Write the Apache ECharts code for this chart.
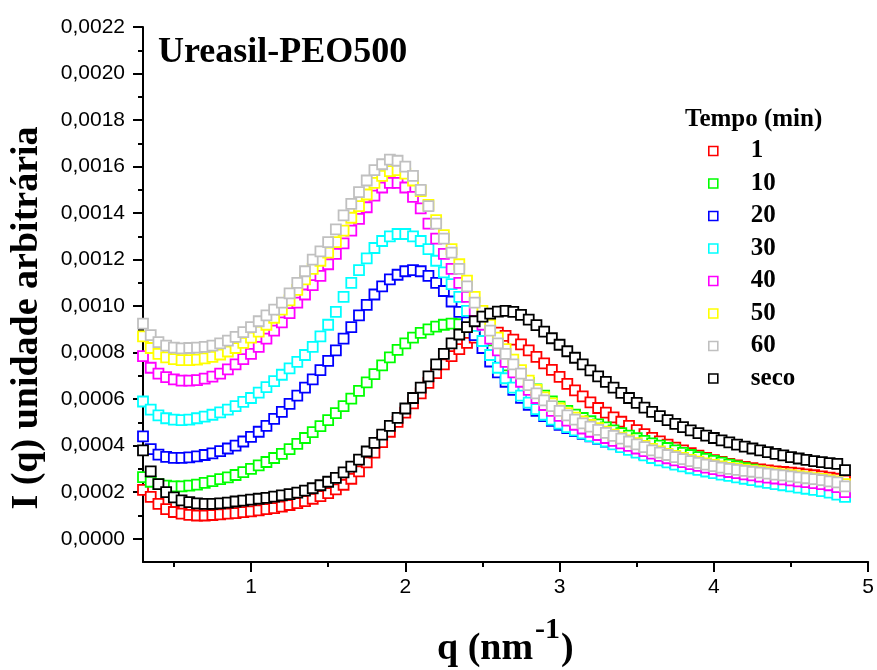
<!DOCTYPE html>
<html>
<head>
<meta charset="utf-8">
<script src="https://cdn.jsdelivr.net/npm/echarts@6/dist/echarts.min.js"></script>
<style>html,body{margin:0;padding:0;background:#fff;}#c{width:877px;height:670px;}</style>
</head>
<body>
<div id="c"></div>
<script>
// q (nm^-1)
const q = [0.30,0.35,0.40,0.45,0.50,0.55,0.60,0.65,0.70,0.75,
0.80,0.85,0.90,0.95,1.00,1.05,1.10,1.15,1.20,1.25,
1.30,1.35,1.40,1.45,1.50,1.55,1.60,1.65,1.70,1.75,
1.80,1.85,1.90,1.95,2.00,2.05,2.10,2.15,2.20,2.25,
2.30,2.35,2.40,2.45,2.50,2.55,2.60,2.65,2.70,2.75,
2.80,2.85,2.90,2.95,3.00,3.05,3.10,3.15,3.20,3.25,
3.30,3.35,3.40,3.45,3.50,3.55,3.60,3.65,3.70,3.75,
3.80,3.85,3.90,3.95,4.00,4.05,4.10,4.15,4.20,4.25,
4.30,4.35,4.40,4.45,4.50,4.55,4.60,4.65,4.70,4.75,
4.80,4.85];

// I(q) in units of 1e-4
const t1 = [2.10,1.80,1.50,1.27,1.15,1.08,1.03,1.00,1.00,1.02,
1.05,1.08,1.10,1.14,1.18,1.22,1.27,1.32,1.38,1.45,
1.53,1.62,1.72,1.83,1.96,2.12,2.32,2.58,2.90,3.28,
3.70,4.15,4.60,5.02,5.42,5.82,6.25,6.70,7.12,7.50,
7.85,8.15,8.42,8.65,8.83,8.92,8.86,8.72,8.56,8.36,
8.10,7.82,7.54,7.26,6.96,6.66,6.38,6.12,5.86,5.62,
5.42,5.22,5.03,4.85,4.67,4.50,4.34,4.19,4.05,3.92,
3.80,3.68,3.57,3.47,3.38,3.30,3.22,3.15,3.09,3.03,
2.98,2.94,2.90,2.87,2.84,2.81,2.77,2.73,2.68,2.63,
2.58,2.50];

const t10 = [2.65,2.45,2.35,2.28,2.25,2.25,2.28,2.33,2.40,2.48,
2.56,2.64,2.74,2.86,3.00,3.15,3.30,3.47,3.65,3.85,
4.08,4.33,4.58,4.84,5.10,5.40,5.70,6.02,6.36,6.72,
7.08,7.45,7.80,8.12,8.40,8.65,8.85,9.00,9.12,9.20,
9.25,9.22,9.10,8.85,8.50,8.10,7.75,7.45,7.18,6.95,
6.70,6.42,6.15,5.90,5.68,5.50,5.34,5.19,5.05,4.92,
4.79,4.66,4.54,4.43,4.32,4.21,4.10,4.00,3.90,3.80,
3.69,3.60,3.51,3.43,3.35,3.27,3.19,3.11,3.04,2.97,
2.90,2.83,2.76,2.69,2.62,2.55,2.48,2.41,2.33,2.24,
2.10,1.85];

const t20 = [4.40,3.85,3.62,3.52,3.48,3.48,3.50,3.54,3.60,3.67,
3.77,3.88,4.00,4.18,4.38,4.60,4.85,5.15,5.45,5.80,
6.15,6.50,6.85,7.25,7.65,8.10,8.60,9.10,9.60,10.05,
10.50,10.85,11.15,11.35,11.50,11.55,11.50,11.30,11.00,10.65,
10.20,9.75,9.30,8.75,8.20,7.62,7.15,6.75,6.40,6.06,
5.76,5.50,5.27,5.07,4.90,4.76,4.63,4.51,4.40,4.29,
4.18,4.07,3.96,3.85,3.74,3.63,3.53,3.43,3.34,3.25,
3.17,3.09,3.02,2.95,2.88,2.82,2.76,2.70,2.64,2.58,
2.52,2.47,2.42,2.37,2.32,2.27,2.22,2.17,2.12,2.06,
1.98,1.85];

const t30 = [5.90,5.55,5.30,5.18,5.12,5.10,5.12,5.18,5.25,5.33,
5.43,5.55,5.70,5.88,6.05,6.28,6.52,6.78,7.05,7.32,
7.60,7.90,8.25,8.70,9.20,9.75,10.40,11.00,11.55,12.05,
12.50,12.80,13.00,13.10,13.10,13.00,12.80,12.45,11.95,11.45,
10.95,10.40,9.80,9.15,8.50,7.90,7.35,6.90,6.50,6.15,
5.85,5.57,5.33,5.12,4.95,4.80,4.66,4.53,4.41,4.30,
4.18,4.06,3.94,3.82,3.70,3.58,3.47,3.37,3.28,3.19,
3.11,3.03,2.96,2.89,2.82,2.76,2.70,2.64,2.58,2.52,
2.46,2.40,2.35,2.30,2.25,2.20,2.15,2.10,2.05,1.98,
1.90,1.80];

const t40 = [7.85,7.35,7.10,6.95,6.85,6.80,6.80,6.82,6.88,6.97,
7.10,7.28,7.50,7.72,7.95,8.25,8.60,8.95,9.30,9.70,
10.15,10.50,10.90,11.30,11.80,12.25,12.70,13.25,13.75,14.25,
14.75,15.10,15.30,15.30,15.10,14.70,14.20,13.55,12.90,12.25,
11.60,11.00,10.40,9.80,9.20,8.60,8.10,7.60,7.15,6.75,
6.40,6.05,5.75,5.50,5.28,5.08,4.90,4.74,4.60,4.46,
4.33,4.21,4.10,3.99,3.88,3.77,3.66,3.56,3.46,3.37,
3.29,3.21,3.13,3.06,2.99,2.93,2.87,2.82,2.77,2.72,
2.67,2.63,2.59,2.55,2.51,2.47,2.43,2.39,2.35,2.30,
2.22,2.00];

const t50 = [8.70,8.20,7.95,7.80,7.72,7.68,7.68,7.70,7.75,7.82,
7.92,8.05,8.20,8.42,8.65,8.90,9.20,9.50,9.85,10.25,
10.70,11.15,11.60,11.95,12.30,12.75,13.25,13.80,14.30,14.80,
15.30,15.60,15.80,15.85,15.70,15.40,14.95,14.35,13.70,13.05,
12.45,11.80,11.10,10.40,9.80,9.20,8.65,8.15,7.70,7.25,
6.80,6.40,6.08,5.82,5.60,5.40,5.21,5.04,4.89,4.75,
4.60,4.47,4.35,4.23,4.11,3.99,3.86,3.75,3.65,3.56,
3.47,3.39,3.31,3.24,3.17,3.11,3.05,3.01,2.97,2.93,
2.89,2.85,2.81,2.77,2.73,2.69,2.65,2.61,2.57,2.52,
2.46,2.35];

const t60 = [9.25,8.75,8.45,8.30,8.22,8.18,8.20,8.22,8.25,8.30,
8.40,8.52,8.68,8.88,9.10,9.35,9.60,9.85,10.15,10.55,
11.00,11.50,12.00,12.35,12.75,13.30,13.90,14.40,14.90,15.40,
15.85,16.10,16.30,16.25,16.00,15.60,15.00,14.30,13.55,12.90,
12.30,11.60,10.85,10.15,9.55,8.95,8.40,7.95,7.50,7.10,
6.60,6.25,5.95,5.70,5.50,5.30,5.12,4.96,4.82,4.68,
4.55,4.42,4.30,4.18,4.06,3.94,3.80,3.70,3.60,3.51,
3.42,3.34,3.26,3.19,3.12,3.06,3.00,2.96,2.92,2.88,
2.84,2.80,2.76,2.72,2.68,2.64,2.60,2.56,2.52,2.47,
2.42,2.25];

const tSeco = [3.80,2.90,2.35,2.00,1.78,1.65,1.57,1.52,1.50,1.50,
1.52,1.55,1.60,1.64,1.68,1.72,1.76,1.81,1.86,1.92,
1.98,2.07,2.17,2.30,2.45,2.62,2.85,3.10,3.40,3.75,
4.12,4.48,4.85,5.20,5.60,6.05,6.50,6.98,7.50,7.95,
8.40,8.78,9.10,9.35,9.55,9.68,9.76,9.80,9.75,9.62,
9.42,9.18,8.90,8.62,8.34,8.06,7.78,7.50,7.24,6.98,
6.74,6.50,6.27,6.05,5.84,5.64,5.45,5.27,5.10,4.94,
4.80,4.66,4.54,4.43,4.33,4.23,4.14,4.05,3.96,3.88,
3.80,3.72,3.65,3.58,3.51,3.45,3.39,3.34,3.29,3.25,
3.22,2.95];

const seriesNames = ['1','10','20','30','40','50','60','seco'];
const seriesValues = [t1,t10,t20,t30,t40,t50,t60,tSeco];
const seriesColors = ['#ff0000','#00ff00','#0000ff','#00ffff','#ff00ff','#ffff00','#c0c0c0','#000000'];

const xMajorTicks = [1,2,3,4,5];
const xMinorTicks = [0.5,1.5,2.5,3.5,4.5];
const yMajorTicks = [0,2,4,6,8,10,12,14,16,18,20,22];   // ×1e-4
const yMinorTicks = [1,3,5,7,9,11,13,15,17,19,21];

const chart = echarts.init(document.getElementById('c'), null, {renderer:'canvas'});
const serif = '"Liberation Serif","Times New Roman",serif';
const sans = '"Liberation Sans",Arial,sans-serif';

const axisCommon = {
  type:'value', min:0.3, max:5, splitLine:{show:false}
};
const option = {
  animation:false,
  backgroundColor:'#fff',
  grid:{left:143, right:7, top:27, bottom:108, containLabel:false},
  xAxis:[
    Object.assign({}, axisCommon, {
      position:'bottom',
      axisLine:{show:true, onZero:false, lineStyle:{color:'#000', width:2}},
      axisTick:{show:true, inside:false, length:10, customValues:xMajorTicks, lineStyle:{color:'#000', width:2}},
      axisLabel:{customValues:xMajorTicks, margin:15, color:'#000', fontFamily:sans, fontSize:21}
    }),
    Object.assign({}, axisCommon, {
      position:'bottom',
      axisLine:{show:false, onZero:false},
      axisTick:{show:true, inside:false, length:5, customValues:xMinorTicks, lineStyle:{color:'#000', width:2}},
      axisLabel:{show:false}
    })
  ],
  yAxis:[
    {
      type:'value', min:-1, max:22, position:'left', splitLine:{show:false},
      axisLine:{show:true, onZero:false, lineStyle:{color:'#000', width:2}},
      axisTick:{show:true, inside:false, length:10, customValues:yMajorTicks, lineStyle:{color:'#000', width:2}},
      axisLabel:{customValues:yMajorTicks, margin:18, color:'#000', fontFamily:sans, fontSize:21,
        formatter:function(v){ return (v/10000).toFixed(4).replace('.', ','); }}
    },
    {
      type:'value', min:-1, max:22, position:'left', offset:0, splitLine:{show:false},
      axisLine:{show:false, onZero:false},
      axisTick:{show:true, inside:false, length:5, customValues:yMinorTicks, lineStyle:{color:'#000', width:2}},
      axisLabel:{show:false}
    }
  ],
  legend:{
    orient:'vertical', left:708, top:138.5, padding:0,
    itemWidth:9, itemHeight:9, itemGap:7.5,
    data:seriesNames,
    itemStyle:{borderWidth:1.6},
    textStyle:{color:'#000', fontFamily:serif, fontWeight:'bold', fontSize:25, lineHeight:25, padding:[0,0,0,28]}
  },
  graphic:[
    {type:'text', x:158, y:53, style:{text:'Ureasil-PEO500', font:'bold 36px '+serif, fill:'#000', textAlign:'left', textVerticalAlign:'middle', align:'left', verticalAlign:'middle'}},
    {type:'text', x:685, y:120, style:{text:'Tempo (min)', font:'bold 25px '+serif, fill:'#000', textAlign:'left', textVerticalAlign:'middle', align:'left', verticalAlign:'middle'}},
    {type:'text', x:27, y:318, rotation:Math.PI/2, style:{text:'I (q) unidade arbitrária', font:'bold 38px '+serif, fill:'#000', textAlign:'center', textVerticalAlign:'middle', align:'center', verticalAlign:'middle'}},
    {type:'text', x:437, y:649, style:{text:'q (nm', font:'bold 38px '+serif, fill:'#000', textAlign:'left', textVerticalAlign:'middle', align:'left', verticalAlign:'middle'}},
    {type:'text', x:535, y:630, style:{text:'-1', font:'bold 30px '+serif, fill:'#000', textAlign:'left', textVerticalAlign:'middle', align:'left', verticalAlign:'middle'}},
    {type:'text', x:561, y:649, style:{text:')', font:'bold 38px '+serif, fill:'#000', textAlign:'left', textVerticalAlign:'middle', align:'left', verticalAlign:'middle'}}
  ],
  series: seriesNames.map(function(name, k){
    return {
      name:name, type:'scatter', xAxisIndex:0, yAxisIndex:0,
      symbol:'rect', symbolSize:10,
      itemStyle:{color:'#fff', borderColor:seriesColors[k], borderWidth:1.8, opacity:1},
      emphasis:{disabled:true},
      data:q.map(function(x,i){ return [x, seriesValues[k][i]]; })
    };
  })
};
chart.setOption(option);
</script>
</body>
</html>
